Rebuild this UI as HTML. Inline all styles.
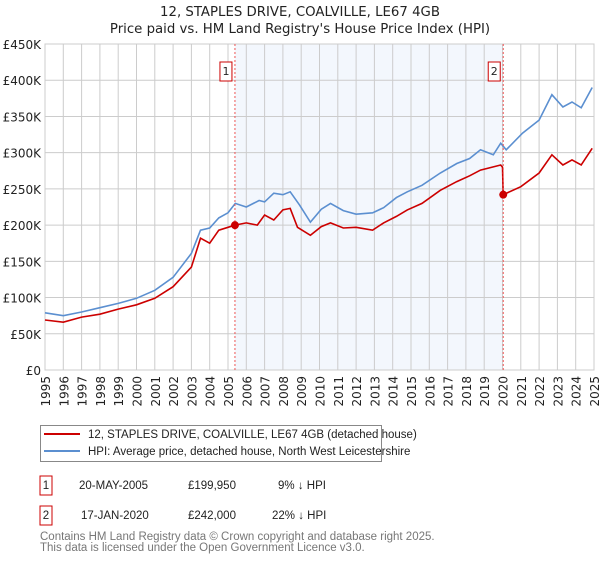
<!DOCTYPE html>
<html><head><meta charset="utf-8"><style>
body{margin:0;background:#fff;font-family:"Liberation Sans","DejaVu Sans",sans-serif;}
svg text{font-family:"DejaVu Sans","Liberation Sans",sans-serif;}
svg .lib{font-family:"Liberation Sans","DejaVu Sans",sans-serif;}
</style></head><body>
<svg id="c" width="600" height="560" xmlns="http://www.w3.org/2000/svg">
<text x="300" y="16" text-anchor="middle" font-size="13.3" fill="#222">12, STAPLES DRIVE, COALVILLE, LE67 4GB</text>
<text x="300" y="33" text-anchor="middle" font-size="13.3" fill="#222">Price paid vs. HM Land Registry's House Price Index (HPI)</text>
<g id="plot"></g>
<g>
<rect x="40.5" y="425.5" width="341" height="36" fill="#fff" stroke="#888"/>
<line x1="44" y1="434" x2="80" y2="434" stroke="#cc0000" stroke-width="2"/>
<text class="lib" x="88" y="438" font-size="11.5" fill="#222">12, STAPLES DRIVE, COALVILLE, LE67 4GB (detached house)</text>
<line x1="44" y1="451" x2="80" y2="451" stroke="#5b8fd0" stroke-width="2"/>
<text class="lib" x="88" y="455" font-size="11.5" fill="#222">HPI: Average price, detached house, North West Leicestershire</text>
</g>
<g font-size="11.5" fill="#222" class="lib">
<rect x="40" y="476" width="12" height="19" fill="#fff" stroke="#cc0000"/><text class="lib" x="46" y="489" text-anchor="middle">1</text>
<text class="lib" x="79" y="489">20-MAY-2005</text><text class="lib" x="188" y="489">£199,950</text><text class="lib" x="278" y="489">9% ↓ HPI</text>
<rect x="40" y="506" width="12" height="19" fill="#fff" stroke="#cc0000"/><text class="lib" x="46" y="519" text-anchor="middle">2</text>
<text class="lib" x="81" y="519">17-JAN-2020</text><text class="lib" x="188" y="519">£242,000</text><text class="lib" x="272" y="519">22% ↓ HPI</text>
</g>
<text class="lib" x="40" y="540" font-size="11.5" fill="#777">Contains HM Land Registry data © Crown copyright and database right 2025.</text>
<text class="lib" x="40" y="551" font-size="11.5" fill="#777">This data is licensed under the Open Government Licence v3.0.</text>
</svg>
<script>
const hpiYears=[1995,1996,1997,1998,1999,2000,2001,2002,2003,2003.5,2004,2004.5,2005,2005.4,2006,2006.7,2007,2007.5,2008,2008.4,2008.9,2009.5,2010.1,2010.6,2011.3,2012,2012.9,2013.5,2014.2,2014.8,2015.6,2016.6,2017.5,2018.2,2018.8,2019.5,2019.9,2020.2,2021.1,2022,2022.7,2023.3,2023.8,2024.3,2024.9];
const hpiValues=[79,75,80,86,92,99,110,128,161,193,196,210,217,230,225,234,232,244,242,246,228,204,222,230,220,215,217,224,238,246,255,272,285,292,304,297,313,304,327,345,380,363,370,362,390];
const ppYears=[1995,1996,1997,1998,1999,2000,2001,2002,2003,2003.5,2004,2004.5,2005,2005.38,2006,2006.6,2007,2007.5,2008,2008.4,2008.8,2009.5,2010.1,2010.6,2011.3,2012,2012.9,2013.5,2014.2,2014.8,2015.6,2016.6,2017.5,2018.2,2018.8,2019.9,2020.0,2020.04,2021,2022,2022.7,2023.3,2023.8,2024.3,2024.9];
const ppValues=[69,66,73,77,84,90,99,115,142,182,175,193,197,199.95,203,200,214,207,221,223,197,186,198,203,196,197,193,203,212,221,230,248,260,268,276,283,280,242,253,272,297,283,290,283,306];
const saleYears=[2005.38,2020.04];
const saleValues=[199.95,242];
const saleLabels=["1","2"];
const yTicks=[0,50,100,150,200,250,300,350,400,450];
const yTickLabels=["£0","£50K","£100K","£150K","£200K","£250K","£300K","£350K","£400K","£450K"];
const xTicks=[1995,1996,1997,1998,1999,2000,2001,2002,2003,2004,2005,2006,2007,2008,2009,2010,2011,2012,2013,2014,2015,2016,2017,2018,2019,2020,2021,2022,2023,2024,2025];

const X0=45,X1=594,Y0=370,Y1=44;
const xs=y=>X0+(y-1995)/30*(X1-X0);
const ys=v=>Y0-v/450*(Y0-Y1);
const NS="http://www.w3.org/2000/svg";
const g=document.getElementById('plot');
function mk(t,a){const e=document.createElementNS(NS,t);for(const k in a)e.setAttribute(k,a[k]);g.appendChild(e);return e;}
let sh=mk('rect',{x:xs(saleYears[0]),y:Y1,width:xs(saleYears[1])-xs(saleYears[0]),height:Y0-Y1,fill:'#eef3fc',opacity:0.7});


yTicks.forEach((t,i)=>{
 let l=mk('line',{x1:X0,x2:X1,y1:ys(t),y2:ys(t),stroke:'#ccc'});
 
 
 let tx=mk('text',{x:X0-4,y:ys(t)+5,'text-anchor':'end','font-size':'12',fill:'#222'});
 tx.textContent=yTickLabels[i];
 
 
});
xTicks.forEach(t=>{
 let l=mk('line',{x1:xs(t),x2:xs(t),y1:Y1,y2:Y0,stroke:'#ccc'});
 
 
 let tx=mk('text',{x:0,y:0,'text-anchor':'end','font-size':'12',fill:'#222',transform:`translate(${xs(t)+5},${Y0+6}) rotate(-90)`});
 tx.textContent=t;
 
 
});
let fr=mk('rect',{x:X0,y:Y1,width:X1-X0,height:Y0-Y1,fill:'none',stroke:'#ccc'});


const pts=(a,b)=>a.map((y,i)=>xs(y).toFixed(1)+','+ys(b[i]).toFixed(1)).join(' ');
let h=mk('polyline',{points:pts(hpiYears,hpiValues),fill:'none',stroke:'#5b8fd0','stroke-width':1.6});


let p=mk('polyline',{points:pts(ppYears,ppValues),fill:'none',stroke:'#cc0000','stroke-width':1.6});


saleYears.forEach((s,i)=>{
 let l=mk('line',{x1:xs(s),x2:xs(s),y1:Y1,y2:Y0,stroke:'#e55','stroke-dasharray':'2,2'});
 
 
 let c=mk('circle',{cx:xs(s),cy:ys(saleValues[i]),r:4,fill:'#cc0000'});
 
 
 let b=mk('rect',{x:xs(s)-15,y:62,width:12,height:19,fill:'#fff',stroke:'#cc0000'});
 
 
 let t=mk('text',{x:xs(s)-9,y:75,'text-anchor':'middle','font-size':'11',fill:'#222'});
 t.textContent=saleLabels[i];
 
 
});
</script>
</body></html>
